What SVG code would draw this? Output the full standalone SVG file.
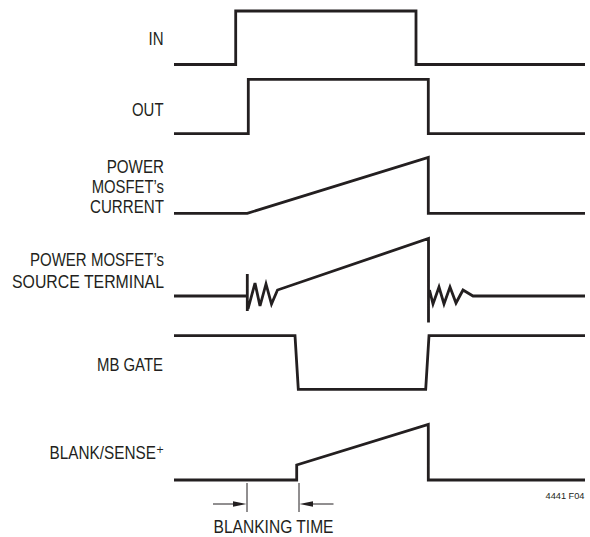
<svg xmlns="http://www.w3.org/2000/svg" width="590" height="537" viewBox="0 0 590 537">
<style>
.w{fill:none;stroke:#231f20;stroke-width:2.8;stroke-linejoin:miter;stroke-linecap:butt}
.t{font-family:"Liberation Sans","DejaVu Sans",Arial,sans-serif;font-size:18px;fill:#231f20;text-anchor:end}
.thin{fill:none;stroke:#231f20;stroke-width:1}
.ah{fill:#231f20}
</style>
<rect width="590" height="537" fill="#ffffff"/>
<g id="sig-in">
<text class="t" x="163.5" y="45" textLength="15" lengthAdjust="spacingAndGlyphs">IN</text>
<path class="w" d="M174 64.5 H235.7 V11 H416 V64.5 H585"/>
</g>
<g id="sig-out">
<text class="t" x="163.5" y="116" textLength="31.5" lengthAdjust="spacingAndGlyphs">OUT</text>
<path class="w" d="M174 133.7 H248.3 V79.3 H428.3 V133.7 H585"/>
</g>
<g id="sig-current">
<text class="t" x="164" y="172.7" textLength="57.3" lengthAdjust="spacingAndGlyphs">POWER</text>
<text class="t" x="164" y="192.9" textLength="72.3" lengthAdjust="spacingAndGlyphs">MOSFET’s</text>
<text class="t" x="164" y="213.3" textLength="74" lengthAdjust="spacingAndGlyphs">CURRENT</text>
<path class="w" d="M174 213.3 H247.3 L428.3 157.3 V213.3 H585"/>
</g>
<g id="sig-source">
<text class="t" x="164" y="265.7" textLength="134" lengthAdjust="spacingAndGlyphs">POWER MOSFET’s</text>
<text class="t" x="164" y="287.5" textLength="152" lengthAdjust="spacingAndGlyphs">SOURCE TERMINAL</text>
<path class="w" d="M174 296 H247.3 M247.3 274 V311 M248 309 L255 283 L260 306 L266 284 L271.5 304 L277.5 290 L428.5 238.5 V322.5 M429.5 290 L433 304 L439 287 L444 304 L450 287 L456 303 L463 290 L473 296 H585"/>
</g>
<g id="sig-mbgate">
<text class="t" x="163" y="370.7" textLength="66" lengthAdjust="spacingAndGlyphs">MB GATE</text>
<path class="w" d="M174 335.7 H295 L298.3 389.3 H425.7 L429 335.7 H585"/>
</g>
<g id="sig-blank">
<text class="t" x="164" y="459.3" textLength="114.5" lengthAdjust="spacingAndGlyphs">BLANK/SENSE⁺</text>
<path class="w" d="M174 480 H296.7 V465 L428.3 424.3 V480 H585"/>
</g>
<g id="connectors">
<line class="thin" x1="247" y1="483" x2="247" y2="512"/>
<line class="thin" x1="299" y1="483" x2="299" y2="512"/>
<line class="thin" x1="213" y1="504" x2="240" y2="504"/>
<polygon class="ah" points="246.5,504 233,501.3 233,506.7"/>
<line class="thin" x1="306" y1="504" x2="333.5" y2="504"/>
<polygon class="ah" points="299.5,504 313,501.3 313,506.7"/>
</g>
<text class="t" x="333.5" y="533" textLength="120" lengthAdjust="spacingAndGlyphs">BLANKING TIME</text>
<text class="t" x="584.5" y="499" style="font-size:9px" textLength="39" lengthAdjust="spacingAndGlyphs">4441 F04</text>
</svg>
